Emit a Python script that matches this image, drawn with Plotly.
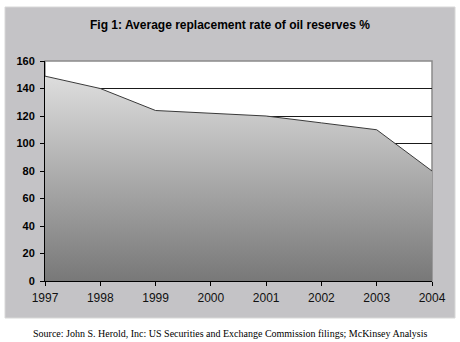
import plotly.graph_objects as go

years = ["1997", "1998", "1999", "2000", "2001", "2002", "2003", "2004"]
rates = [149, 140, 124, 122, 120, 115, 110, 80]
y_ticks = [0, 20, 40, 60, 80, 100, 120, 140, 160]
title_text = "Fig 1: Average replacement rate of oil reserves %"
source_text = "Source: John S. Herold, Inc: US Securities and Exchange Commission filings; McKinsey Analysis"

x_idx = list(range(len(years)))

fig = go.Figure()
fig.add_trace(go.Scatter(
    x=x_idx, y=rates, mode="lines",
    line=dict(color="#3a3a3a", width=1),
    fill="tozeroy",
    fillgradient=dict(type="vertical", start=0, stop=150,
                      colorscale=[[0, "#787878"], [1, "#dedede"]]),
    hoverinfo="skip", showlegend=False,
))

W, H = 460, 342
# plot area pixels: x 45..432, y 61..281
fig.update_layout(
    width=W, height=H,
    margin=dict(l=45, r=W - 432, t=61, b=H - 281),
    paper_bgcolor="white",
    plot_bgcolor="white",
    font=dict(family="Liberation Sans, Arial", color="black"),
    showlegend=False,
)

# gray panel
fig.add_shape(type="rect", xref="paper", yref="paper", layer="below",
              x0=(5 - 45) / 387, x1=(455 - 45) / 387,
              y0=(281 - 318) / 220, y1=(281 - 7) / 220,
              fillcolor="#c4c3c6", line=dict(color="#d8d8d8", width=1))
# plot area white bg
fig.add_shape(type="rect", xref="paper", yref="paper", layer="below",
              x0=0, x1=1, y0=0, y1=1,
              fillcolor="white", line=dict(color="#8a8a8a", width=1.5))

fig.update_xaxes(
    range=[0, len(years) - 1],
    tickmode="array", tickvals=x_idx, ticktext=years,
    showgrid=False, zeroline=False,
    showline=True, linecolor="black", linewidth=1,
    ticks="outside", ticklen=4, tickcolor="black",
    ticklabelstandoff=2,
    tickfont=dict(size=12, family="Liberation Sans, Arial", color="#111"),
)
fig.update_yaxes(
    range=[0, 160],
    tickmode="array", tickvals=y_ticks,
    showgrid=True, gridcolor="#1a1a1a", gridwidth=1,
    zeroline=False,
    showline=True, linecolor="black", linewidth=1,
    ticks="outside", ticklen=4, tickcolor="black",
    ticklabelstandoff=3,
    tickfont=dict(size=11, family="Liberation Sans, Arial", color="black", weight="bold"),
)

fig.add_annotation(text="<b>" + title_text + "</b>", xref="paper", yref="paper",
                   x=(230 - 45) / 387, y=(281 - 25) / 220, showarrow=False,
                   xanchor="center", yanchor="middle",
                   font=dict(size=12, family="Liberation Sans, Arial", color="black"))
fig.add_annotation(text=source_text, xref="paper", yref="paper",
                   x=(230 - 45) / 387, y=(281 - 333) / 220, showarrow=False,
                   xanchor="center", yanchor="middle",
                   font=dict(size=10, family="Liberation Serif, Times New Roman", color="black"))

fig.write_html("out.html")
